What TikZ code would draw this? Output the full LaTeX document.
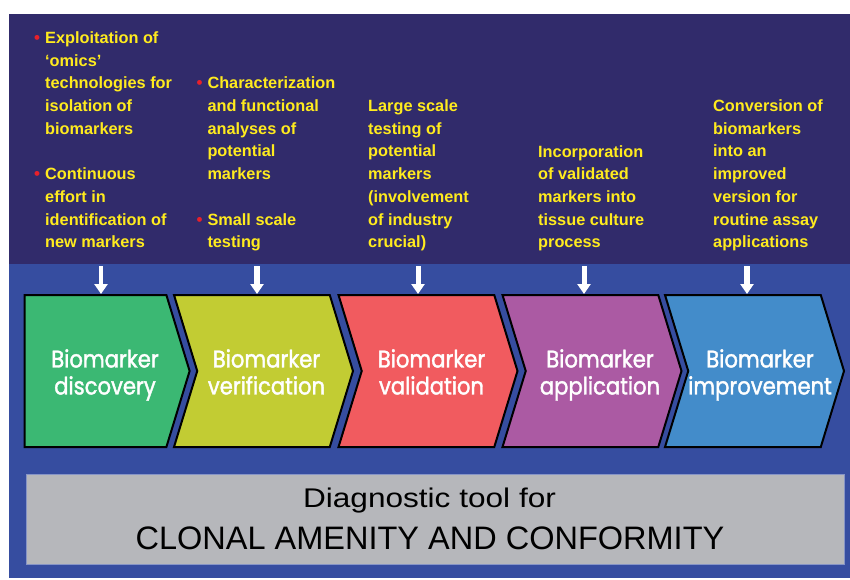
\documentclass[tikz,border=0pt]{standalone}
\usepackage{fontspec}
\setmainfont{Liberation Sans}
\newfontfamily\stagefont[FakeStretch=0.88, FakeBold=1.6]{Poppins}
\usetikzlibrary{arrows.meta,shapes.symbols}
\definecolor{navy}{HTML}{312B6B}
\definecolor{band}{HTML}{364DA0}
\definecolor{discgreen}{HTML}{3BB873}
\definecolor{verilime}{HTML}{C2CC33}
\definecolor{valired}{HTML}{F15B5F}
\definecolor{applpurple}{HTML}{AB5AA3}
\definecolor{imprblue}{HTML}{438CCA}
\definecolor{toolgray}{HTML}{B6B7BB}
\definecolor{noteyellow}{HTML}{FFEB1E}
\definecolor{bulletred}{HTML}{E8202A}
\newcommand{\bul}{\llap{{\fontsize{17}{17}\selectfont\color{bulletred}\textbullet}\hspace{5pt}}}

\begin{document}
\begin{tikzpicture}
      [x = 1pt, y = -1pt,
      stage/.style = {
         shape = signal,
         draw = black,
         line width = 2pt,
         signal to = east,
         signal from = west,
         signal pointer angle = 146,
         minimum width = 179pt,
         minimum height = 152pt,
         inner sep = 0pt
      },
      stagetxt/.style = {
         anchor = north,
         text = white,
         align = center,
         inner sep = 0pt,
         font = \stagefont\fontsize{24}{27}\selectfont
      },
      note/.style = {
         anchor = north west,
         text = noteyellow,
         align = left,
         inner sep = 0pt,
         font = \bfseries\fontsize{16.3}{22.7}\selectfont
      },
      feed/.style = {
         white,
         line width = 5pt,
         -{Triangle[length = 10pt, width = 13pt]}
      },
      toolbox/.style = {
         fill = toolgray,
         draw = band!60!white,
         line width = 0.8pt,
         minimum width = 818pt,
         minimum height = 90pt,
         align = center,
         font = \fontsize{32.5}{42}\selectfont
      }]
      \useasboundingbox (0, 0) rectangle (850, 579);
      \fill[white] (0, 0) rectangle (850, 579);
      \fill[navy] (9, 14) rectangle (850, 264);
      \fill[band] (9, 264) rectangle (850, 578);

      \node[note] (n-disc) at (45, 31.4)
         {\bul Exploitation of\\ `omics'\\ technologies for\\ isolation of\\ biomarkers\\[22.7pt]
          \bul Continuous\\ effort in\\ identification of\\ new markers};
      \node[note] (n-veri) at (207.3, 76.8)
         {\bul Characterization\\ and functional\\ analyses of\\ potential\\ markers\\[22.7pt]
          \bul Small scale\\ testing};
      \node[note] (n-vali) at (368, 99.5)
         {Large scale\\ testing of\\ potential\\ markers\\ (involvement\\ of industry\\ crucial)};
      \node[note] (n-appl) at (538, 145)
         {Incorporation\\ of validated\\ markers into\\ tissue culture\\ process};
      \node[note] (n-impr) at (713, 99.5)
         {Conversion of\\ biomarkers\\ into an\\ improved\\ version for\\ routine assay\\ applications};

      \node[stage, signal from = nowhere, minimum width = 165pt, fill = discgreen] (disc) at (95.5, 371) {};
      \node[stage, fill = verilime] (veri) at (263.5, 371) {};
      \node[stage, fill = valired] (vali) at (428, 371) {};
      \node[stage, fill = applpurple] (appl) at (592, 371) {};
      \node[stage, fill = imprblue] (impr) at (754.5, 371) {};

      \node[stagetxt] (disc-t) at (105, 349) {Biomarker\\discovery};
      \node[stagetxt] (veri-t) at (266.5, 349) {Biomarker\\verification};
      \node[stagetxt] (vali-t) at (431.5, 349) {Biomarker\\validation};
      \node[stagetxt] (appl-t) at (600, 349) {Biomarker\\application};
      \node[stagetxt] (impr-t) at (760, 349) {Biomarker\\improvement};

      \coordinate (in-disc) at (101, 266);
      \coordinate (in-veri) at (257, 266);
      \coordinate (in-vali) at (418, 266);
      \coordinate (in-appl) at (584, 266);
      \coordinate (in-impr) at (747, 266);
      \draw[feed, line width = 4pt] (in-disc) -- (in-disc |- disc.north);
      \draw[feed, line width = 6pt] (in-veri) -- (in-veri |- veri.north);
      \draw[feed] (in-vali) -- (in-vali |- vali.north);
      \draw[feed] (in-appl) -- (in-appl |- appl.north);
      \draw[feed, line width = 6pt] (in-impr) -- (in-impr |- impr.north);

      \node[toolbox] (tool) at (435, 519)
         {{\fontsize{27}{42}\selectfont\addfontfeatures{FakeStretch=1.17}Diagnostic tool for}\hspace*{11pt}\\
          CLONAL AMENITY AND CONFORMITY\hspace*{10pt}};
   \end{tikzpicture}
\end{document}
